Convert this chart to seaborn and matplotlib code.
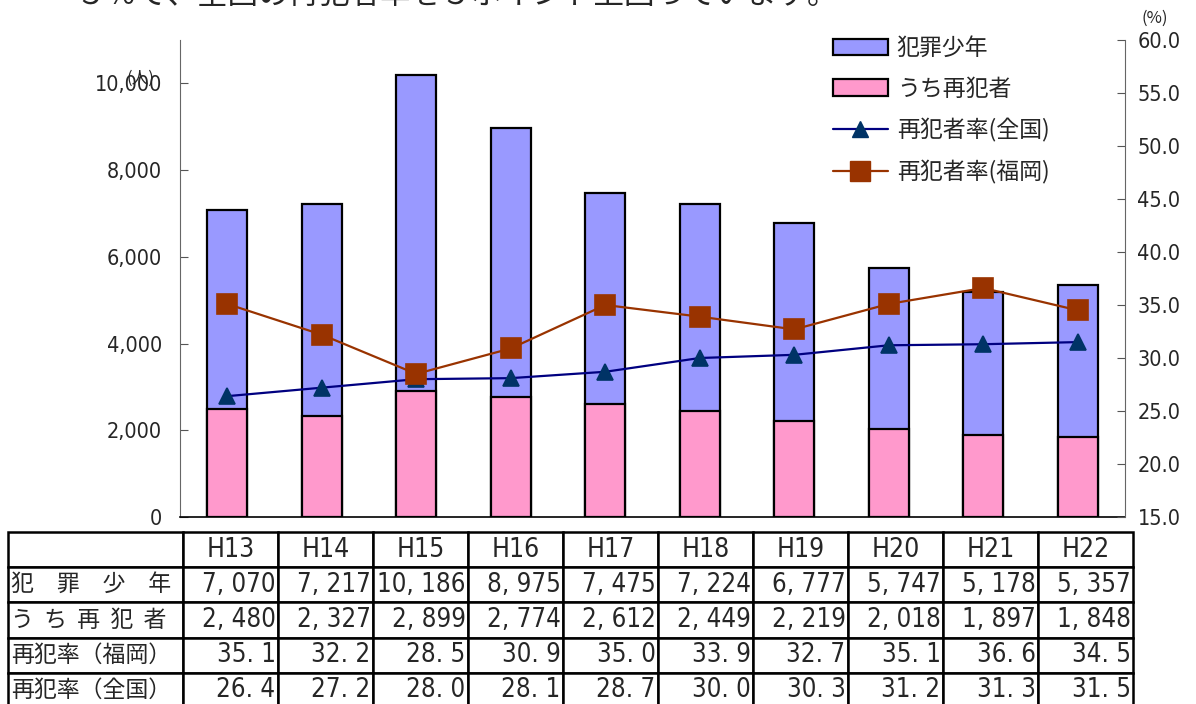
import numpy as np
import seaborn as sns
import matplotlib.pyplot as plt
from matplotlib import font_manager
from matplotlib.patches import Patch
from matplotlib.lines import Line2D

years = ["H13", "H14", "H15", "H16", "H17", "H18", "H19", "H20", "H21", "H22"]
juvenile = [7070, 7217, 10186, 8975, 7475, 7224, 6777, 5747, 5178, 5357]
repeat = [2480, 2327, 2899, 2774, 2612, 2449, 2219, 2018, 1897, 1848]
rate_fukuoka = [35.1, 32.2, 28.5, 30.9, 35.0, 33.9, 32.7, 35.1, 36.6, 34.5]
rate_national = [26.4, 27.2, 28.0, 28.1, 28.7, 30.0, 30.3, 31.2, 31.3, 31.5]
row_labels = ["犯　罪　少　年", "う  ち  再  犯  者", "再犯率（福岡）", "再犯率（全国）"]

sns.set_style("white")
cjk = ["Noto Sans CJK JP", "DejaVu Sans"]
plt.rcParams["font.family"] = cjk

names = {f.name for f in font_manager.fontManager.ttflist}
if "Liberation Sans Narrow" in names:
    num_font = dict(family="Liberation Sans Narrow")
else:
    num_font = dict(family="DejaVu Sans", stretch="condensed")

W, H = 1196, 704
fig = plt.figure(figsize=(W / 100, H / 100), dpi=100)
ax = fig.add_axes([180 / W, 1 - 517 / H, 945 / W, 477 / H])

# bars: total juveniles behind, repeat offenders in front
sns.barplot(x=years, y=juvenile, ax=ax, color="#9999FF", saturation=1,
            edgecolor="black", linewidth=1.6, width=0.42)
sns.barplot(x=years, y=repeat, ax=ax, color="#FF99CC", saturation=1,
            edgecolor="black", linewidth=1.6, width=0.42)
ax.set_ylim(0, 11000)
ax.set_xlim(-0.5, 9.5)
ax.set_yticks(np.arange(0, 10001, 2000))
ax.set_yticklabels([f"{v:,}" for v in range(0, 10001, 2000)], **num_font)
ax.set_xticks(np.arange(-0.5, 10, 1), minor=True)
ax.set_xticklabels([])
ax.tick_params(axis="x", which="major", length=0)
ax.tick_params(axis="x", which="minor", direction="in", length=9, width=1, color="#555555")
ax.tick_params(axis="y", direction="in", length=6, color="#555555", labelsize=15.5, pad=13)
ax.spines["top"].set_visible(False)
ax.spines["left"].set_color("#666666")
ax.spines["right"].set_visible(False)
ax.spines["bottom"].set_color("black")
ax.spines["bottom"].set_linewidth(1.2)

ax2 = ax.twinx()
sns.pointplot(x=years, y=rate_national, ax=ax2, color="#000080", markers="^",
              markersize=11, linewidth=1.6, markerfacecolor="#003366",
              markeredgecolor="#003366", errorbar=None)
sns.pointplot(x=years, y=rate_fukuoka, ax=ax2, color="#993300", markers="s",
              markersize=14, linewidth=1.6, markerfacecolor="#993300",
              markeredgecolor="#993300", errorbar=None)
ax2.set_ylim(15, 60)
ax2.set_xlim(-0.5, 9.5)
ax2.set_yticks(np.arange(15, 61, 5))
ax2.set_yticklabels([f"{v:.1f}" for v in range(15, 61, 5)], **num_font)
ax2.set_ylabel("")
ax2.tick_params(axis="y", direction="in", length=6, color="#555555", labelsize=15.5, pad=9)
ax2.spines["top"].set_visible(False)
ax2.spines["left"].set_visible(False)
ax2.spines["bottom"].set_visible(False)
ax2.spines["right"].set_color("#666666")

handles = [
    Patch(facecolor="#9999FF", edgecolor="black", linewidth=1.6),
    Patch(facecolor="#FF99CC", edgecolor="black", linewidth=1.6),
    Line2D([], [], color="#000080", marker="^", markersize=11, linewidth=1.6,
           markerfacecolor="#003366", markeredgecolor="#003366"),
    Line2D([], [], color="#993300", marker="s", markersize=14, linewidth=1.6),
]
labels = ["犯罪少年", "うち再犯者", "再犯者率(全国)", "再犯者率(福岡)"]
fig.legend(handles, labels, loc="upper left", bbox_to_anchor=(812 / W, 1 - 16 / H),
           frameon=False, fontsize=16.5, handlelength=2.4, handletextpad=0.4,
           labelspacing=0.78)

fig.text(75 / W, 1 - 4 / H, "５％で、全国の再犯者率を５ポイント上回っています。",
         fontsize=22, ha="left", va="baseline")
fig.text(1155 / W, 1 - 18 / H, "(%)", fontsize=12, ha="center", va="center")
fig.text(140 / W, 1 - 78 / H, "(人)", fontsize=12, ha="center", va="center")

# data table under the chart
tab_ax = fig.add_axes([8 / W, -4 / H, 1125 / W, 176 / H])
tab_ax.axis("off")
cells = [[""] + years,
         [row_labels[0]] + [f"{v:,}".replace(",", ", ") for v in juvenile],
         [row_labels[1]] + [f"{v:,}".replace(",", ", ") for v in repeat],
         [row_labels[2]] + [f"{v:.1f}".replace(".", ". ") for v in rate_fukuoka],
         [row_labels[3]] + [f"{v:.1f}".replace(".", ". ") for v in rate_national]]
tbl = tab_ax.table(cellText=cells, colWidths=[175 / 1125] + [95 / 1125] * 10,
                   bbox=[0, 0, 1, 1], cellLoc="right")
tbl.auto_set_font_size(False)
for (r, c), cell in tbl.get_celld().items():
    cell.set_linewidth(1.8)
    txt = cell.get_text()
    if c == 0:
        cell.PAD = 0.015
        txt.set_ha("left")
        txt.set_fontfamily(cjk)
        txt.set_fontsize(16.5)
    else:
        txt.set_fontfamily(num_font["family"])
        if "stretch" in num_font:
            txt.set_fontstretch(num_font["stretch"])
        if r == 0:
            txt.set_ha("center")
            txt.set_fontsize(19)
        else:
            cell.PAD = 0.025
            txt.set_ha("right")
            txt.set_fontsize(18.5)

fig.savefig("out.png", dpi=100)
